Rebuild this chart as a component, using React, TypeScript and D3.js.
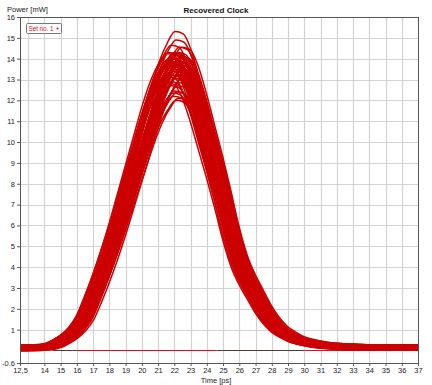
import React, { useEffect, useRef } from 'react';
import * as d3 from 'd3';

// median pulse (ps -> mW)
const templateTime = [11, 11.5, 12, 12.5, 13, 13.5, 14, 14.5, 15, 15.5, 16, 16.5, 17, 17.5, 18, 18.5, 19, 19.5, 20, 20.5, 21, 21.5, 22, 22.5, 23, 23.5, 24, 24.5, 25, 25.5, 26, 26.5, 27, 27.5, 28, 28.5, 29, 29.5, 30, 30.5, 31, 31.5, 32, 33, 34, 35, 36, 37, 38.5];
const templateValue = [0.1, 0.1, 0.1, 0.1, 0.1, 0.12, 0.15, 0.25, 0.45, 0.7, 1.05, 1.6, 2.5, 3.5, 4.6, 5.8, 7.1, 8.4, 9.7, 11.0, 12.1, 12.9, 13.4, 13.3, 12.6, 11.4, 10.0, 8.6, 7.1, 5.5, 4.2, 3.3, 2.6, 1.9, 1.35, 0.95, 0.7, 0.5, 0.38, 0.3, 0.24, 0.2, 0.17, 0.14, 0.12, 0.12, 0.12, 0.12, 0.12];

// one entry per recorded pulse
const tracePeak = [15.2, 14.7, 14.6, 14.4, 14.3, 14.3, 14.2, 14.2, 14.1, 14.1, 14.0, 14.0, 14.0, 13.9, 13.9, 13.9, 13.8, 13.8, 13.8, 13.7, 13.7, 13.7, 13.6, 13.6, 13.6, 13.5, 13.5, 13.5, 13.4, 13.4, 13.4, 13.3, 13.3, 13.3, 13.2, 13.2, 13.1, 13.1, 13.0, 13.0, 12.9, 12.9, 12.8, 12.8, 12.7, 12.6, 12.5, 12.4, 12.3, 12.2, 12.1, 12.0, 11.9, 13.8, 13.6, 13.9, 14.0, 13.5, 13.2, 13.7];
const traceShift = [0.05, 0.1, -0.2, 0.3, -0.35, 0.45, 0.0, -0.5, 0.2, -0.1, 0.35, -0.25, 0.15, -0.45, 0.5, -0.05, 0.25, -0.3, 0.4, -0.15, 0.1, -0.4, 0.3, 0.05, -0.55, 0.2, -0.2, 0.45, -0.1, 0.0, 0.35, -0.35, 0.15, -0.25, 0.55, -0.05, 0.25, -0.45, 0.1, -0.15, 0.4, -0.3, 0.05, -0.5, 0.3, 0.2, -0.2, 0.0, 0.15, -0.1, 0.25, -0.05, 0.1, -0.4, 0.35, -0.25, 0.45, -0.35, 0.2, 0.0];
const traceFloor = [0.1, 0.2, 0.05, 0.15, 0.0, 0.25, 0.1, 0.05, 0.2, 0.15, 0.1, 0.0, 0.2, 0.05, 0.15, 0.25, 0.1, 0.05, 0.2, 0.1, 0.0, 0.15, 0.2, 0.05, 0.1, 0.25, 0.15, 0.0, 0.1, 0.2, 0.05, 0.15, 0.1, 0.25, 0.0, 0.2, 0.1, 0.05, 0.15, 0.2, 0.1, 0.0, 0.25, 0.05, 0.15, 0.1, 0.2, 0.05, 0.1, 0.15, 0.0, 0.2, 0.1, 0.05, 0.25, 0.15, 0.1, 0.2, 0.05, 0.1];

const xTickLabels = [12.5, 14, 15, 16, 17, 18, 19, 20, 21, 22, 23, 24, 25, 26, 27, 28, 29, 30, 31, 32, 33, 34, 35, 36, 37];
const xGrid = [13, 14, 15, 16, 17, 18, 19, 20, 21, 22, 23, 24, 25, 26, 27, 28, 29, 30, 31, 32, 33, 34, 35, 36];
const yTickLabels = [-0.6, 1, 2, 3, 4, 5, 6, 7, 8, 9, 10, 11, 12, 13, 14, 15, 16];
const yGrid = [1, 2, 3, 4, 5, 6, 7, 8, 9, 10, 11, 12, 13, 14, 15];

const App = () => {
  const chartRef = useRef(null);

  useEffect(() => {
    const width = 432;
    const height = 385;
    const margin = { top: 17, right: 14, bottom: 22, left: 20 };
    const font = 'Arial, "Liberation Sans", sans-serif';

    const x = d3.scaleLinear().domain([12.5, 37]).range([margin.left, width - margin.right]);
    const y = d3.scaleLinear().domain([-0.6, 16]).range([height - margin.bottom, margin.top]);

    const svg = d3.select(chartRef.current)
      .attr('width', width)
      .attr('height', height)
      .style('font-family', font);
    svg.selectAll('*').remove();

    svg.append('rect').attr('width', width).attr('height', height).attr('fill', '#fff');

    svg.append('clipPath').attr('id', 'plot-clip')
      .append('rect')
      .attr('x', x(12.5)).attr('y', y(16))
      .attr('width', x(37) - x(12.5)).attr('height', y(-0.6) - y(16));

    // grid
    svg.append('g').selectAll('line').data(xGrid).enter().append('line')
      .attr('x1', d => Math.round(x(d)) + 0.5).attr('x2', d => Math.round(x(d)) + 0.5)
      .attr('y1', y(16)).attr('y2', y(-0.6))
      .attr('stroke', '#d2d2d2').attr('stroke-width', 1.2);
    svg.append('g').selectAll('line').data(yGrid).enter().append('line')
      .attr('y1', d => Math.round(y(d)) + 0.5).attr('y2', d => Math.round(y(d)) + 0.5)
      .attr('x1', x(12.5)).attr('x2', x(37))
      .attr('stroke', '#d2d2d2').attr('stroke-width', 1.2);

    const plot = svg.append('g').attr('clip-path', 'url(#plot-clip)');

    // zero line
    const zeroSegs = [
      { from: 14.5, to: 16, color: '#5a3a3a' },
      { from: 16, to: 24.6, color: '#dd1111' },
      { from: 24.6, to: 30, color: '#5a3a3a' },
      { from: 30, to: 37, color: '#dd1111' },
    ];
    plot.selectAll('.zero').data(zeroSegs).enter().append('line')
      .attr('x1', d => x(d.from)).attr('x2', d => x(d.to))
      .attr('y1', y(0)).attr('y2', y(0))
      .attr('stroke', d => d.color).attr('stroke-width', 1);

    const line = d3.line()
      .x(d => x(d[0]))
      .y(d => y(d[1]))
      .curve(d3.curveMonotoneX);

    const traces = tracePeak.map((peak, i) =>
      templateTime.map((t, j) => [
        t + traceShift[i],
        traceFloor[i] + (templateValue[j] - 0.1) * peak / 13.3,
      ])
    );

    plot.selectAll('.trace').data(traces).enter().append('path')
      .attr('class', 'trace')
      .attr('d', line)
      .attr('fill', 'none')
      .attr('stroke', '#cc0000')
      .attr('stroke-width', 1.5);

    // frame
    svg.append('rect')
      .attr('x', x(12.5) + 0.5).attr('y', y(16) + 0.5)
      .attr('width', x(37) - x(12.5)).attr('height', y(-0.6) - y(16))
      .attr('fill', 'none').attr('stroke', '#555').attr('stroke-width', 1);

    // axes
    const yAxis = svg.append('g')
      .attr('transform', `translate(${x(12.5)},0)`)
      .call(d3.axisLeft(y).tickValues(yTickLabels).tickSize(3).tickPadding(2)
        .tickFormat(d => String(d)));
    yAxis.select('.domain').remove();
    yAxis.selectAll('.tick line').attr('stroke', '#555');
    yAxis.selectAll('text').attr('font-size', 7.5).attr('fill', '#222').attr('font-family', font);

    const xAxis = svg.append('g')
      .attr('transform', `translate(0,${y(-0.6)})`)
      .call(d3.axisBottom(x).tickValues(xTickLabels).tickSize(3).tickPadding(2)
        .tickFormat(d => String(d).replace('.', ',')));
    xAxis.select('.domain').remove();
    xAxis.selectAll('.tick line').attr('stroke', '#555');
    xAxis.selectAll('text').attr('font-size', 7.5).attr('fill', '#222').attr('font-family', font);

    // titles
    svg.append('text').attr('x', 216).attr('y', 13).attr('text-anchor', 'middle')
      .attr('font-size', 8).attr('font-weight', 'bold').attr('fill', '#111')
      .text('Recovered Clock');
    svg.append('text').attr('x', 7).attr('y', 12)
      .attr('font-size', 7.5).attr('fill', '#222')
      .text('Power [mW]');
    svg.append('text').attr('x', 216).attr('y', 383).attr('text-anchor', 'middle')
      .attr('font-size', 7.5).attr('fill', '#222')
      .text('Time [ps]');

    // legend
    const legend = svg.append('g').attr('transform', 'translate(26.5,23.5)');
    legend.append('rect').attr('width', 35).attr('height', 10).attr('rx', 1)
      .attr('fill', '#fff').attr('stroke', '#777').attr('stroke-width', 1);
    legend.append('text').attr('x', 2).attr('y', 7.5)
      .attr('font-size', 6.5).attr('textLength', 25).attr('fill', '#e02020')
      .text('Set no. 1');
    legend.append('circle').attr('cx', 31).attr('cy', 5).attr('r', 1.1).attr('fill', '#e02020');
  }, []);

  return (
    <div style={{ position: 'absolute', left: 0, top: 0, width: 432, height: 385 }}>
      <svg ref={chartRef}></svg>
    </div>
  );
};

export default App;
